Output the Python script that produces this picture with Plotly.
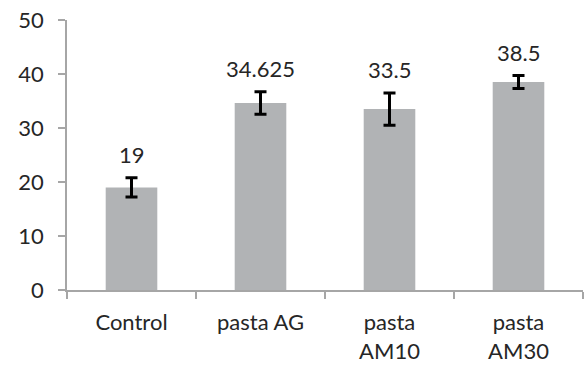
import plotly.graph_objects as go

categories = ["Control", "pasta AG", "pasta<br>AM10", "pasta<br>AM30"]
values = [19, 34.625, 33.5, 38.5]
errors = [1.8, 2.1, 3.0, 1.2]
value_labels = ["19", "34.625", "33.5", "38.5"]
y_ticks = [0, 10, 20, 30, 40, 50]

FONT = "Lato, 'Open Sans', sans-serif"
FS = 22
TXT = "#262626"
AX = "#a6a6a6"

fig = go.Figure()
fig.add_trace(go.Bar(
    x=categories, y=values, width=0.4,
    marker=dict(color="#b1b3b5", line=dict(width=0)),
    error_y=dict(type="data", array=errors, visible=True,
                 color="black", thickness=3, width=6),
    showlegend=False, hoverinfo="skip",
))
for c, v, e, lab in zip(categories, values, errors, value_labels):
    fig.add_annotation(
        x=c, y=v + e, text=lab, showarrow=False, yanchor="bottom",
        yshift=8, font=dict(family=FONT, size=FS, color=TXT),
    )
fig.update_layout(
    width=584, height=368,
    margin=dict(l=67, r=1, t=20, b=78),
    paper_bgcolor="white", plot_bgcolor="white",
    font=dict(family=FONT, size=FS, color=TXT),
    bargap=0.6,
)
fig.update_xaxes(
    showline=True, linecolor=AX, linewidth=1.5,
    ticks="outside", tickson="boundaries", ticklen=7, tickcolor=AX, tickwidth=1.5,
    showgrid=False, ticklabelstandoff=12,
    tickfont=dict(family=FONT, size=FS, color=TXT),
)
fig.update_yaxes(
    range=[0, 50], tickvals=y_ticks, showline=True, linecolor=AX, linewidth=1.5,
    ticks="outside", ticklen=7, tickcolor=AX, tickwidth=1.5,
    showgrid=False, zeroline=False, ticklabelstandoff=10,
    tickfont=dict(family=FONT, size=FS, color=TXT),
)
fig.write_html("out.html", config={"displayModeBar": False},
               post_script="document.body.style.margin='0px';")
